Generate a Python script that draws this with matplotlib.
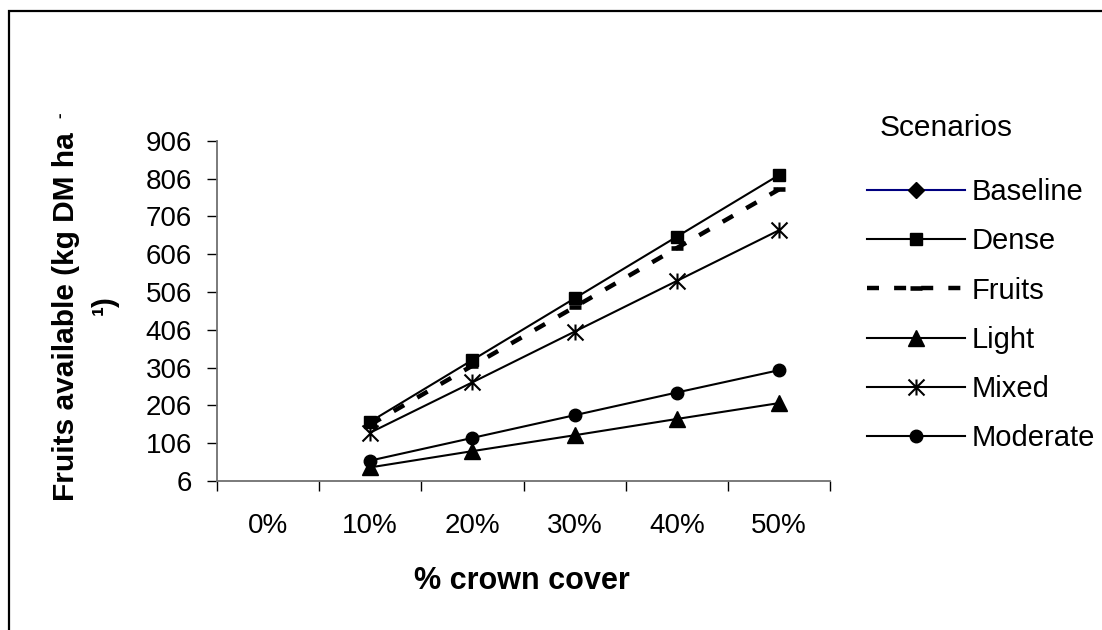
import numpy as np
import matplotlib
matplotlib.use("Agg")
import matplotlib.pyplot as plt
from matplotlib.path import Path
from matplotlib.patches import Rectangle

plt.rcParams['font.family'] = ['Liberation Sans', 'DejaVu Sans']

# crown cover classes and fruit availability per scenario (kg DM / ha)
cover = ['0%', '10%', '20%', '30%', '40%', '50%']
nan = np.nan
baseline = [nan, nan, nan, nan, nan, nan]
dense = [nan, 163, 326, 489, 652, 815]
fruits = [nan, 155, 311, 466, 622, 777]
light = [nan, 42, 85, 127, 170, 212]
mixed = [nan, 134, 267, 401, 535, 669]
moderate = [nan, 60, 120, 180, 240, 299]
yticks = np.arange(6, 907, 100)

W, H = 1102, 630
fig = plt.figure(figsize=(W / 100, H / 100), dpi=100)


def fx(px):
    return px / W


def fy(py):
    return 1 - py / H


ax = fig.add_axes([fx(217), fy(481), fx(830) - fx(217), fy(140.7) - fy(481)])

# Excel-like star: vertical bar plus an X
star = Path([(0, -1), (0, 1), (-1, -1), (1, 1), (-1, 1), (1, -1)],
            [Path.MOVETO, Path.LINETO, Path.MOVETO, Path.LINETO,
             Path.MOVETO, Path.LINETO])

x = np.arange(len(cover))
ax.plot(x, baseline, color='#000080', lw=1.5, marker='D', ms=8,
        mfc='black', mec='black', label='Baseline')
ax.plot(x, dense, color='black', lw=1.5, marker='s', ms=9, label='Dense')
ax.plot(x, fruits, color='black', lw=3.2, dashes=(2.7, 3.4),
        marker='_', ms=9, mew=3.3, label='Fruits')
ax.plot(x, light, color='black', lw=1.5, marker='^', ms=11, label='Light')
ax.plot(x, mixed, color='black', lw=1.5, marker=star, ms=11.5, mew=1.5,
        label='Mixed')
ax.plot(x, moderate, color='black', lw=1.5, marker='o', ms=9,
        label='Moderate')

ax.set_xlim(-0.5, len(cover) - 0.5)
ax.set_ylim(6, 906)

# category axis: tick marks between classes, labels at class centres
ax.set_xticks(np.arange(-0.5, len(cover), 1.0))
ax.set_xticklabels([])
ax.set_xticks(x, minor=True)
ax.set_xticklabels(cover, minor=True, fontsize=20)
ax.tick_params(axis='x', which='major', length=7, width=1, color='black')
ax.tick_params(axis='x', which='minor', length=0, pad=23)
ax.set_yticks(yticks)
ax.set_yticklabels([str(v) for v in yticks], fontsize=20)
ax.tick_params(axis='y', length=7, width=1, color='black', pad=11)

for side in ['top', 'right']:
    ax.spines[side].set_visible(False)
for side in ['left', 'bottom']:
    ax.spines[side].set_color('#707070')
    ax.spines[side].set_linewidth(1.3)

fig.text(fx(522), fy(581), '% crown cover', fontsize=22,
         fontweight='bold', ha='center', va='center')
fig.text(fx(66), fy(317), 'Fruits available (kg DM ha', fontsize=21.5,
         fontweight='bold', rotation=90, ha='center', va='center')
fig.text(fx(60), fy(115), '-', fontsize=12, fontweight='bold',
         rotation=90, ha='center', va='center')
fig.text(fx(105), fy(305), '\u00b9)', fontsize=21.5, fontweight='bold',
         rotation=90, ha='center', va='center')

fig.text(fx(880), fy(128), 'Scenarios', fontsize=21.5, ha='left',
         va='center')
ax.legend(loc='upper left', bbox_to_anchor=(fx(867), fy(178)),
          bbox_transform=fig.transFigure, frameon=False, fontsize=21,
          borderpad=0, borderaxespad=0, handlelength=3.36,
          handletextpad=0.24, labelspacing=0.73, numpoints=1)

# outer chart border
fig.patches.append(Rectangle((fx(9), -0.5), 2, fy(10.7) + 0.5,
                             transform=fig.transFigure, fill=False,
                             edgecolor='black', lw=1.6))

fig.savefig('out.png', dpi=100)
